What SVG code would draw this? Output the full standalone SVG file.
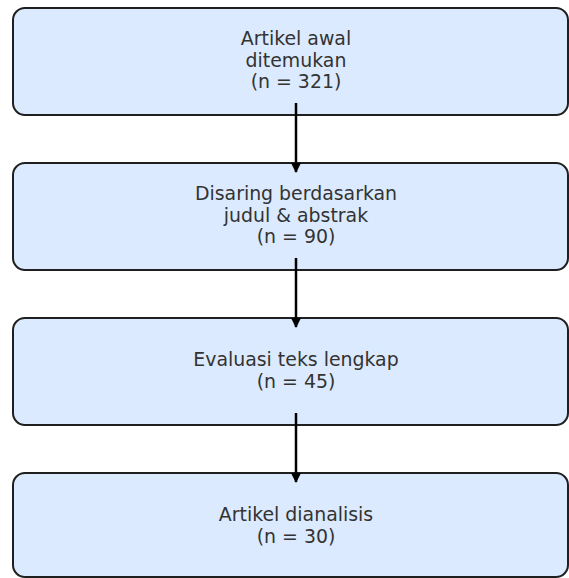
<svg xmlns="http://www.w3.org/2000/svg" width="569" height="578" viewBox="0 0 569 578">
<defs>
<style>
.box{fill:#dbeafe;stroke:#1f1f1f;stroke-width:2}
.t{font-family:"DejaVu Sans",sans-serif;font-size:18.9px;fill:#333;text-anchor:middle}
.c{stroke:#000;stroke-width:2.5;fill:none;marker-end:url(#ah)}
</style>
<marker id="ah" viewBox="0 0 10 10" refX="9" refY="5" markerWidth="4" markerHeight="4" markerUnits="strokeWidth" orient="auto">
<path d="M0,0 L10,5 L0,10 z" fill="#000"/>
</marker>
</defs>
<rect width="569" height="578" fill="#fff"/>
<g id="n1">
<rect class="box" x="13" y="8" width="555" height="107" rx="12"/>
<text class="t" x="296" y="45">Artikel awal</text>
<text class="t" x="296" y="66.5">ditemukan</text>
<text class="t" x="296" y="88">(n = 321)</text>
</g>
<g id="n2">
<rect class="box" x="13" y="163" width="555" height="107" rx="12"/>
<text class="t" x="296" y="200">Disaring berdasarkan</text>
<text class="t" x="296" y="221.5">judul &amp; abstrak</text>
<text class="t" x="296" y="243">(n = 90)</text>
</g>
<g id="n3">
<rect class="box" x="13" y="318" width="555" height="107" rx="12"/>
<text class="t" x="296" y="366">Evaluasi teks lengkap</text>
<text class="t" x="296" y="387.5">(n = 45)</text>
</g>
<g id="n4">
<rect class="box" x="13" y="473" width="555" height="104" rx="12"/>
<text class="t" x="296" y="521">Artikel dianalisis</text>
<text class="t" x="296" y="542.5">(n = 30)</text>
</g>
<g id="connectors">
<line class="c" x1="296" y1="103" x2="296" y2="172"/>
<line class="c" x1="296" y1="258" x2="296" y2="327"/>
<line class="c" x1="296" y1="413" x2="296" y2="482"/>
</g>
</svg>
